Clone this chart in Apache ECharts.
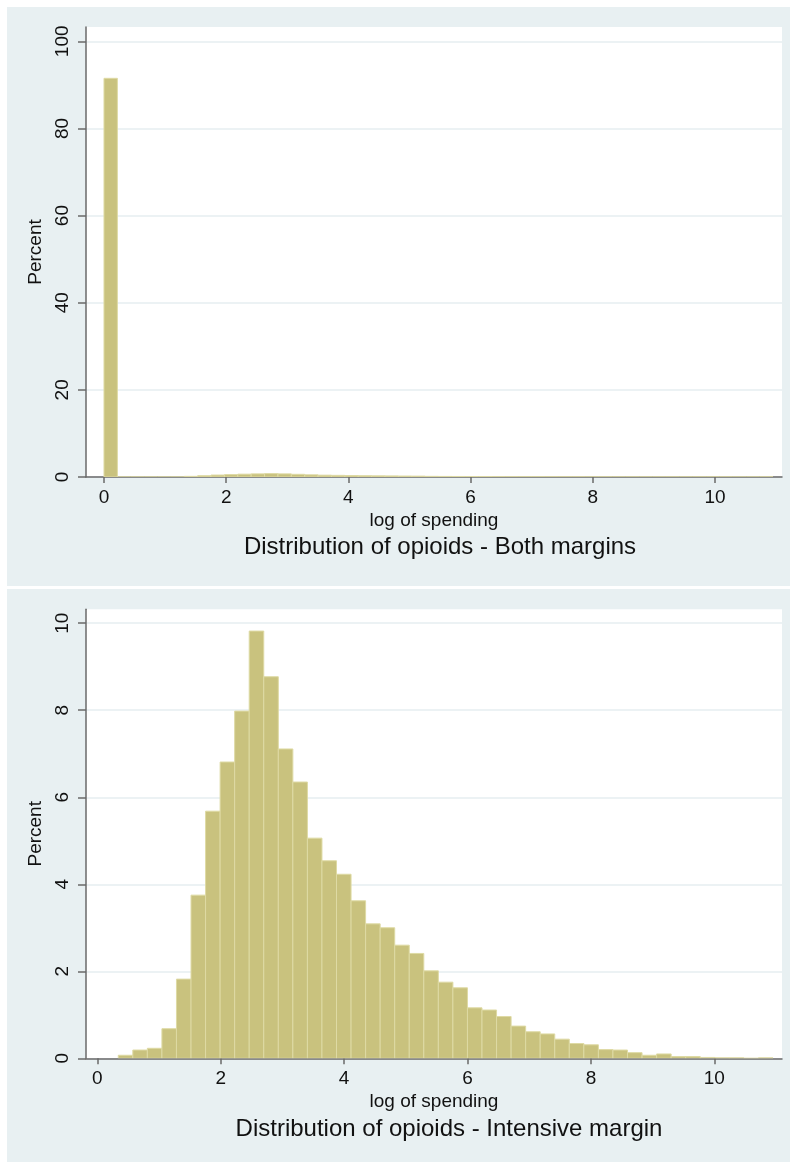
<!DOCTYPE html>
<html><head><meta charset="utf-8">
<script src="https://cdn.jsdelivr.net/npm/echarts@6/dist/echarts.min.js"></script>
<style>html,body{margin:0;padding:0;background:#ffffff}#c{width:790px;height:1162px}</style>
</head><body><div id="c"></div>
<script>
// ---- data ----
const topBinStart = 0;
const topBinWidth = 0.219;
const topPercent = [91.5, 0, 0, 0, 0, 0,
  0.15, 0.30, 0.45, 0.55, 0.65, 0.72, 0.78, 0.72, 0.62, 0.50,
  0.42, 0.38, 0.34, 0.30, 0.27, 0.25, 0.22, 0.20, 0.15, 0.13,
  0.12, 0.10, 0.09, 0.07, 0.06, 0.05, 0.05, 0.04, 0.03, 0.03,
  0.02, 0.02, 0.01, 0.01, 0.01, 0.01, 0.01, 0.01, 0.01, 0.01, 0.01,
  0, 0, 0.01];
const botBinStart = 0.34;
const botBinWidth = 0.2358;
const botPercent = [0.07, 0.19, 0.23, 0.68, 1.82, 3.75, 5.68, 6.81, 7.98, 9.82,
  8.77, 7.11, 6.35, 5.06, 4.54, 4.23, 3.62, 3.09, 3.00, 2.60,
  2.41, 2.01, 1.75, 1.62, 1.16, 1.11, 0.96, 0.74, 0.61, 0.56,
  0.44, 0.34, 0.31, 0.20, 0.19, 0.13, 0.07, 0.10, 0.04, 0.04,
  0.02, 0.01, 0.01, 0, 0.01];
const topYTicks = [0, 20, 40, 60, 80, 100];
const botYTicks = [0, 2, 4, 6, 8, 10];
const xTicks = [0, 2, 4, 6, 8, 10];
const xAxisTitle = 'log of spending';
const yAxisTitle = 'Percent';
const topTitle = 'Distribution of opioids - Both margins';
const botTitle = 'Distribution of opioids - Intensive margin';

// ---- styling ----
const FONT = '"Liberation Sans", Arial, Helvetica, sans-serif';
const TXT = '#111111';
const AX = '#6a6a6a';
const PANEL = '#e8f0f2';
const GRIDLINE = '#e6eef0';
const BAR_FILL = '#c9c27e';
const BAR_EDGE = '#dedaa4';

function toBins(start, w, vals) {
  return vals.map((v, i) => [start + i * w, start + (i + 1) * w, v]);
}
function renderBar(params, api) {
  const v = api.value(2);
  const p0 = api.coord([api.value(0), v]);
  const p1 = api.coord([api.value(1), 0]);
  return {
    type: 'rect',
    shape: { x: p0[0], y: p0[1], width: p1[0] - p0[0], height: p1[1] - p0[1] },
    style: { fill: BAR_FILL, stroke: BAR_EDGE, lineWidth: 1 }
  };
}
function xAxisCfg(gi, min, max) {
  return {
    type: 'value', gridIndex: gi, min: min, max: max,
    name: xAxisTitle, nameLocation: 'middle', nameGap: 34,
    nameTextStyle: { fontFamily: FONT, fontSize: 19, color: TXT },
    axisLine: { show: true, onZero: false, lineStyle: { color: AX, width: 1.5 } },
    axisTick: { show: true, length: 6, customValues: xTicks, lineStyle: { color: AX, width: 1.5 } },
    axisLabel: { customValues: xTicks, margin: 11, fontFamily: FONT, fontSize: 19, color: TXT },
    splitLine: { show: false }
  };
}
function yAxisCfg(gi, max, ticks, interval) {
  return {
    type: 'value', gridIndex: gi, min: 0, max: max, interval: interval,
    name: yAxisTitle, nameLocation: 'middle', nameGap: 35,
    nameTextStyle: { fontFamily: FONT, fontSize: 19, color: TXT },
    axisLine: { show: true, onZero: false, lineStyle: { color: AX, width: 1.5 } },
    axisTick: { show: true, length: 8, customValues: ticks, lineStyle: { color: AX, width: 1.5 } },
    axisLabel: { customValues: ticks, rotate: 90, margin: 14, fontFamily: FONT, fontSize: 19, color: TXT },
    splitLine: { show: true, lineStyle: { color: GRIDLINE, width: 1.5 } }
  };
}

const chart = echarts.init(document.getElementById('c'), null, { renderer: 'canvas' });
chart.setOption({
  backgroundColor: '#ffffff',
  animation: false,
  graphic: [
    { type: 'rect', z: -100, silent: true, shape: { x: 7, y: 7, width: 790, height: 579 }, style: { fill: PANEL } },
    { type: 'rect', z: -100, silent: true, shape: { x: 7, y: 589, width: 790, height: 580 }, style: { fill: PANEL } }
  ],
  title: [
    { text: topTitle, left: 440, top: 535, textAlign: 'center', padding: 0,
      textStyle: { fontFamily: FONT, fontSize: 24, fontWeight: 'normal', color: TXT } },
    { text: botTitle, left: 449, top: 1117, textAlign: 'center', padding: 0,
      textStyle: { fontFamily: FONT, fontSize: 24, fontWeight: 'normal', color: TXT } }
  ],
  grid: [
    { left: 86, top: 27, width: 696, height: 450, show: true, backgroundColor: '#ffffff', borderWidth: 0, containLabel: false },
    { left: 86, top: 609.3, width: 696, height: 449, show: true, backgroundColor: '#ffffff', borderWidth: 0, containLabel: false }
  ],
  xAxis: [ xAxisCfg(0, -0.2946, 11.097), xAxisCfg(1, -0.183, 11.097) ],
  yAxis: [ yAxisCfg(0, 103.28, topYTicks, 20), yAxisCfg(1, 10.32, botYTicks, 2) ],
  series: [
    { type: 'custom', xAxisIndex: 0, yAxisIndex: 0, renderItem: renderBar,
      encode: { x: [0, 1], y: 2 }, data: toBins(topBinStart, topBinWidth, topPercent), clip: true },
    { type: 'custom', xAxisIndex: 1, yAxisIndex: 1, renderItem: renderBar,
      encode: { x: [0, 1], y: 2 }, data: toBins(botBinStart, botBinWidth, botPercent), clip: true }
  ]
});
</script>
</body></html>
